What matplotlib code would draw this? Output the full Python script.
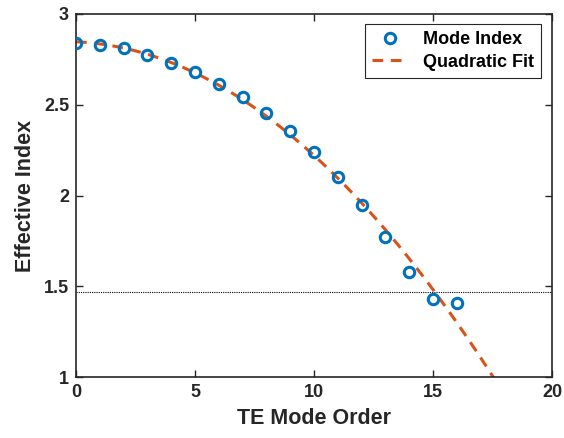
import numpy as np
import matplotlib
matplotlib.use("Agg")
import matplotlib.pyplot as plt

plt.rcParams['font.family'] = ['Liberation Sans', 'DejaVu Sans']
plt.rcParams['font.weight'] = 'bold'

# TE mode effective indices
mode_order = np.arange(0, 17)
eff_index = [2.84, 2.83, 2.81, 2.775, 2.73, 2.68, 2.615, 2.54, 2.455,
             2.355, 2.24, 2.10, 1.948, 1.77, 1.58, 1.43, 1.41]
cladding_index = 1.47

# quadratic fit of the mode indices
coef = np.polyfit(mode_order, eff_index, 2)
x_fit = np.linspace(0, 20, 400)
y_fit = np.polyval(coef, x_fit)

fig = plt.figure(figsize=(5.64, 4.38), dpi=100)
ax = fig.add_axes([76/564, 1 - 377/438, 476/564, 363/438])

ax.axhline(cladding_index, color='black', lw=0.8, ls=(0, (1, 1)), zorder=1)
ax.plot(x_fit, y_fit, ls=(0, (3.5, 2.5)), color='#D95319', lw=2.2,
        label='Quadratic Fit', zorder=2)
ax.plot(mode_order, eff_index, 'o', mfc='none', mec='#0072BD', mew=2.2,
        ms=7.5, label='Mode Index', zorder=3)

ax.set_xlim(0, 20)
ax.set_ylim(1, 3)
ax.set_xticks([0, 5, 10, 15, 20])
ax.set_yticks([1, 1.5, 2, 2.5, 3])
ax.set_yticklabels(['1', '1.5', '2', '2.5', '3'])
ax.tick_params(direction='in', top=True, right=True, length=5, width=1,
               labelsize=13, colors='#262626', pad=5)
for lbl in ax.get_xticklabels() + ax.get_yticklabels():
    lbl.set_fontweight('bold')
for s in ax.spines.values():
    s.set_linewidth(1.2)
    s.set_color('#262626')

ax.set_xlabel('TE Mode Order', fontsize=15.5, fontweight='bold',
              color='#262626', labelpad=5)
ax.set_ylabel('Effective Index', fontsize=15.5, fontweight='bold',
              color='#262626', labelpad=6)

handles, labels = ax.get_legend_handles_labels()
leg = ax.legend(handles[::-1], labels[::-1], loc='upper right',
                bbox_to_anchor=(0.977, 0.972), borderaxespad=0,
                fancybox=False, edgecolor='#262626', framealpha=1,
                fontsize=13, handlelength=2.0, borderpad=0.4,
                labelspacing=0.3, handletextpad=0.8)
leg.get_frame().set_linewidth(0.8)

fig.savefig('out.png', dpi=100)
